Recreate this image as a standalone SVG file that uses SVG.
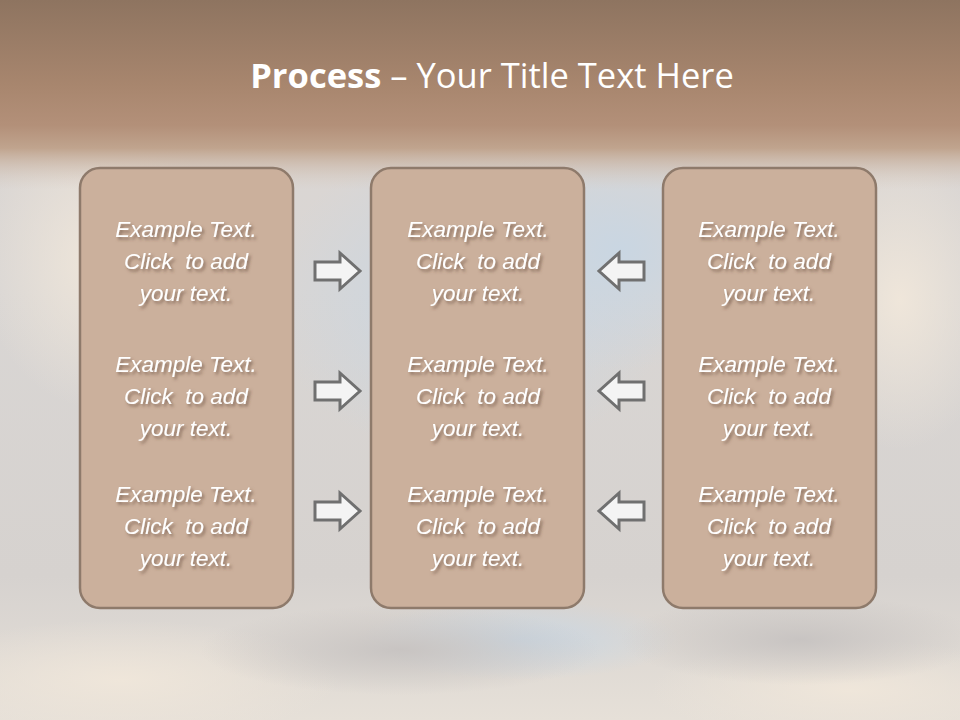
<svg xmlns="http://www.w3.org/2000/svg" width="960" height="720" viewBox="0 0 960 720">
<defs>
<linearGradient id="top" x1="0" y1="0" x2="0" y2="1">
<stop offset="0" stop-color="#8e7460"/>
<stop offset="0.45" stop-color="#a8866e"/>
<stop offset="0.66" stop-color="#b39079"/>
<stop offset="0.78" stop-color="#c0a48e"/>
<stop offset="1" stop-color="#d8ccc2" stop-opacity="0"/>
</linearGradient>
<linearGradient id="sky" x1="0" y1="0" x2="0" y2="1">
<stop offset="0" stop-color="#dcd6d2"/>
<stop offset="0.4" stop-color="#d9d6d4"/>
<stop offset="0.8" stop-color="#d6d2cf"/>
<stop offset="1" stop-color="#e6e0d8"/>
</linearGradient>
<radialGradient id="blue" cx="0.5" cy="0.5" r="0.5">
<stop offset="0" stop-color="#c9d6e2"/>
<stop offset="1" stop-color="#c9d6e2" stop-opacity="0"/>
</radialGradient>
<radialGradient id="warm" cx="0.5" cy="0.5" r="0.5">
<stop offset="0" stop-color="#efe6da"/>
<stop offset="1" stop-color="#efe6da" stop-opacity="0"/>
</radialGradient>
<radialGradient id="grey" cx="0.5" cy="0.5" r="0.5">
<stop offset="0" stop-color="#c8c4c2"/>
<stop offset="1" stop-color="#c8c4c2" stop-opacity="0"/>
</radialGradient>
<filter id="sh" x="-10%" y="-20%" width="130%" height="160%">
<feDropShadow dx="2" dy="2.5" stdDeviation="1.8" flood-color="#5a4030" flood-opacity="0.6"/>
</filter>
<style>
.box{fill:#cbb09c;stroke:#8e7a6b;stroke-width:2.5}
.t{font-family:"Liberation Sans",Arial,sans-serif;font-style:italic;font-size:22.5px;fill:#ffffff;text-anchor:middle;filter:url(#sh);white-space:pre}
.arr{fill:#f4f4f4;stroke:#707070;stroke-width:3;stroke-linejoin:miter}
.title{font-family:"Open Sans","Liberation Sans",sans-serif;font-size:34.5px;fill:#ffffff;text-anchor:middle}
</style>
</defs>
<rect x="0" y="0" width="960" height="720" fill="url(#sky)"/>
<ellipse cx="470" cy="300" rx="200" ry="160" fill="url(#blue)"/>
<ellipse cx="620" cy="250" rx="150" ry="120" fill="url(#blue)"/>
<ellipse cx="520" cy="640" rx="160" ry="40" fill="url(#blue)"/>
<ellipse cx="120" cy="680" rx="220" ry="60" fill="url(#warm)"/>
<ellipse cx="850" cy="690" rx="200" ry="50" fill="url(#warm)"/>
<ellipse cx="100" cy="260" rx="120" ry="150" fill="url(#warm)"/>
<ellipse cx="900" cy="300" rx="100" ry="150" fill="url(#warm)"/>
<ellipse cx="400" cy="650" rx="200" ry="45" fill="url(#grey)"/>
<ellipse cx="800" cy="640" rx="180" ry="45" fill="url(#grey)"/>
<rect x="0" y="0" width="960" height="190" fill="url(#top)"/>
<text class="title" x="492" y="88"><tspan font-weight="bold">Process</tspan> – Your Title Text Here</text>
<g id="connectors">
<path class="arr" d="M315,262 H340 V253 L360,271 L340,289 V280 H315 Z"/>
<path class="arr" d="M315,382 H340 V373 L360,391 L340,409 V400 H315 Z"/>
<path class="arr" d="M315,502 H340 V493 L360,511 L340,529 V520 H315 Z"/>
<path class="arr" d="M644,262 H619 V253 L599,271 L619,289 V280 H644 Z"/>
<path class="arr" d="M644,382 H619 V373 L599,391 L619,409 V400 H644 Z"/>
<path class="arr" d="M644,502 H619 V493 L599,511 L619,529 V520 H644 Z"/>
</g>
<g id="box-left">
<rect class="box" x="80" y="168" width="213" height="440" rx="20"/>
<text class="t" x="186" y="237">Example Text.</text>
<text class="t" x="186" y="269" xml:space="preserve">Click  to add</text>
<text class="t" x="186" y="301">your text.</text>
<text class="t" x="186" y="372">Example Text.</text>
<text class="t" x="186" y="404" xml:space="preserve">Click  to add</text>
<text class="t" x="186" y="436">your text.</text>
<text class="t" x="186" y="502">Example Text.</text>
<text class="t" x="186" y="534" xml:space="preserve">Click  to add</text>
<text class="t" x="186" y="566">your text.</text>
</g>
<g id="box-middle">
<rect class="box" x="371" y="168" width="213" height="440" rx="20"/>
<text class="t" x="478" y="237">Example Text.</text>
<text class="t" x="478" y="269" xml:space="preserve">Click  to add</text>
<text class="t" x="478" y="301">your text.</text>
<text class="t" x="478" y="372">Example Text.</text>
<text class="t" x="478" y="404" xml:space="preserve">Click  to add</text>
<text class="t" x="478" y="436">your text.</text>
<text class="t" x="478" y="502">Example Text.</text>
<text class="t" x="478" y="534" xml:space="preserve">Click  to add</text>
<text class="t" x="478" y="566">your text.</text>
</g>
<g id="box-right">
<rect class="box" x="663" y="168" width="213" height="440" rx="20"/>
<text class="t" x="769" y="237">Example Text.</text>
<text class="t" x="769" y="269" xml:space="preserve">Click  to add</text>
<text class="t" x="769" y="301">your text.</text>
<text class="t" x="769" y="372">Example Text.</text>
<text class="t" x="769" y="404" xml:space="preserve">Click  to add</text>
<text class="t" x="769" y="436">your text.</text>
<text class="t" x="769" y="502">Example Text.</text>
<text class="t" x="769" y="534" xml:space="preserve">Click  to add</text>
<text class="t" x="769" y="566">your text.</text>
</g>
</svg>
